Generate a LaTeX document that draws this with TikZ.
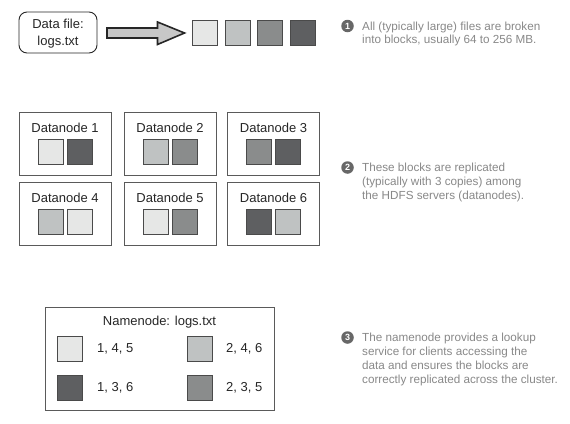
\documentclass[tikz,border=0pt]{standalone}
\usepackage{fontspec}
\setmainfont{Liberation Sans}
\definecolor{cA}{HTML}{E6E7E6}
\definecolor{cB}{HTML}{BFC2C2}
\definecolor{cC}{HTML}{8A8C8C}
\definecolor{cD}{HTML}{5E5F61}
\definecolor{blkline}{HTML}{4A4A4A}
\definecolor{boxline}{HTML}{5A5A5A}
\definecolor{calltext}{HTML}{888888}
\definecolor{callfill}{HTML}{676767}
\begin{document}
\begin{tikzpicture}[x=1pt,y=-1pt,
  blk/.style={draw=blkline, line width=0.8pt, minimum size=25pt, inner sep=0pt},
  dnbox/.style={draw=boxline, line width=0.9pt, minimum width=92pt, minimum height=63pt, inner sep=0pt},
  lbl/.style={font=\fontsize{13}{16}\selectfont, text=black!85, inner sep=0pt},
  num/.style={circle, fill=callfill, minimum size=12.5pt, inner sep=0pt, text=white, font=\fontsize{9}{9}\selectfont\bfseries},
  call/.style={anchor=north west, align=left, inner sep=0pt, text=calltext, font=\fontsize{11.7}{13.8}\selectfont},
  bigarrow/.style={draw=black!85, line width=1.6pt, fill=black!22, line join=miter}
]
\useasboundingbox (0,0) rectangle (570,423);

% data file
\node[draw=black!85, line width=0.9pt, rounded corners=8pt, minimum width=78pt, minimum height=41pt, inner sep=0pt] (file) at (58,32.5) {};
\node[align=center, inner sep=0pt, font=\fontsize{13}{17}\selectfont, text=black!85] (filet) at (58,34) {Data file:\\logs.txt};

% blocks
\node[blk, fill=cA] (b1) at (205,33) {};
\node[blk, fill=cB] (b2) at (237.7,33) {};
\node[blk, fill=cC] (b3) at (270.3,33) {};
\node[blk, fill=cD] (b4) at (303,33) {};

% big arrow
\coordinate (as) at (107,33);
\draw[bigarrow] (as) ++(0,-5) -- ++(50.5,0) -- ++(0,-6) -- (184.5,33) -- (157.5,44.5) -- ++(0,-6.5) -- (107,38) -- cycle;

% callout 1
\node[num] (n1) at (347.5,26) {1};
\node[call] (t1) at (362,21.5) {All (typically large) files are broken\\into blocks, usually 64 to 256 MB.};

% datanodes
\foreach \i/\x/\y/\l/\r in {1/65/143.5/cA/cD, 2/170/143.5/cB/cC, 3/273.5/143.5/cC/cD,
                             4/65/214/cB/cA, 5/170/214/cA/cC, 6/273.5/214/cD/cB}{
  \node[dnbox] (dn\i) at (\x,\y) {};
  \node[lbl] (dn\i t) at ([yshift=-16pt]dn\i.north) {Datanode \i};
  \node[blk, fill=\l] (dn\i a) at ([xshift=-14.5pt,yshift=-40pt]dn\i.north) {};
  \node[blk, fill=\r] (dn\i b) at ([xshift=14.5pt,yshift=-40pt]dn\i.north) {};
}

% callout 2
\node[num] (n2) at (347.5,167.5) {2};
\node[call] (t2) at (362,163) {These blocks are replicated\\(typically with 3 copies) among\\the HDFS servers (datanodes).};

% namenode
\node[draw=boxline, line width=0.9pt, minimum width=229pt, minimum height=103pt, inner sep=0pt] (nn) at (159.5,358.5) {};
\node[lbl] (nnt) at (159.5,322) {Namenode: logs.txt};
\node[blk, fill=cA] (l1) at (70,349) {};
\node[blk, fill=cB] (l2) at (199.5,349) {};
\node[blk, fill=cD] (l3) at (70,387.5) {};
\node[blk, fill=cC] (l4) at (199.5,387.5) {};
\node[lbl, anchor=west] (l1t) at (97,349) {1, 4, 5};
\node[lbl, anchor=west] (l2t) at (226,349) {2, 4, 6};
\node[lbl, anchor=west] (l3t) at (97,387.5) {1, 3, 6};
\node[lbl, anchor=west] (l4t) at (226,387.5) {2, 3, 5};

% callout 3
\node[num] (n3) at (347.5,337.5) {3};
\node[call] (t3) at (362,333) {The namenode provides a lookup\\service for clients accessing the\\data and ensures the blocks are\\correctly replicated across the cluster.};
\end{tikzpicture}
\end{document}
